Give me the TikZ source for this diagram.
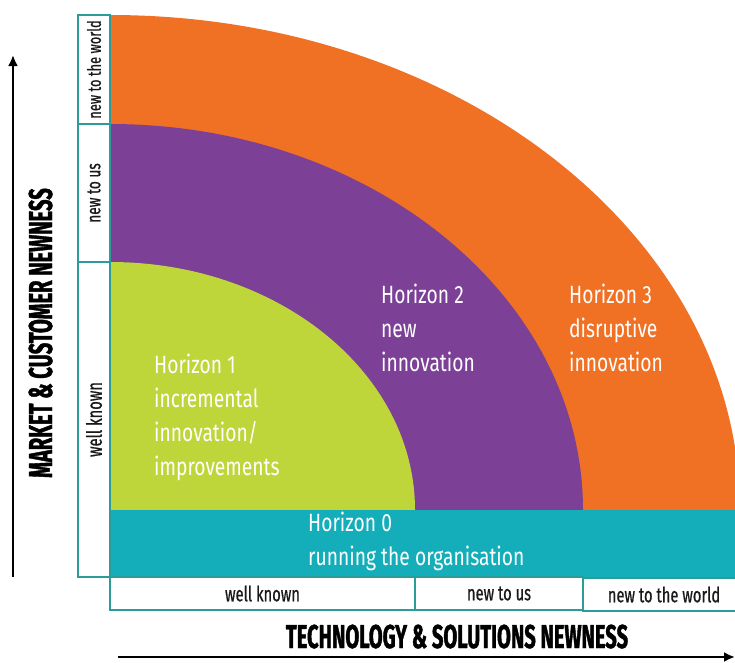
\documentclass[tikz,border=0pt]{standalone}
\usepackage{fontspec}
\setmainfont{Fira Sans}[FakeStretch=0.77]
\newfontfamily\boxfont{Fira Sans}[FakeStretch=0.7,FakeBold=0.6]
\newfontfamily\titlefont{Fira Sans}[FakeStretch=0.61,BoldFeatures={FakeBold=1.2}]
\usetikzlibrary{positioning,arrows.meta}

\definecolor{hzero}{HTML}{14AEBA}
\definecolor{hone}{HTML}{BED639}
\definecolor{htwo}{HTML}{7C4096}
\definecolor{hthree}{HTML}{F07124}
\definecolor{boxline}{HTML}{2A9D9B}

\tikzset{
  hlabel/.style={text=white,align=left,inner sep=0pt,anchor=north west,font=\fontsize{25}{34}\selectfont},
  newbox/.style={draw=boxline,line width=2pt,fill=white,inner sep=0pt,text=black!90,font=\boxfont\fontsize{21}{21}\selectfont},
  axistitle/.style={inner sep=0pt,anchor=base,font=\titlefont\bfseries\fontsize{33}{33}\selectfont},
  axisline/.style={-{Latex[length=11pt,width=10pt]},line width=2.5pt},
}

\begin{document}
\begin{tikzpicture}[x=1pt,y=-1pt]
\useasboundingbox (0,0) rectangle (735,662);

% horizons
\begin{scope}
\clip (110,0) rectangle (735,510);
\fill[hthree] (110,510) ellipse [x radius=630,y radius=495];
\fill[htwo] (110,510) ellipse [x radius=473,y radius=386];
\fill[hone] (110,510) ellipse [x radius=305,y radius=248];
\end{scope}
\fill[hzero] (110,510) rectangle (735,577);

\node[hlabel] (hone) at (154,354) {Horizon 1\\incremental\\innovation/\\improvements};
\node[hlabel] (htwo) at (381,284) {Horizon 2\\new\\innovation};
\node[hlabel] (hthree) at (569,284) {Horizon 3\\disruptive\\innovation};
\node[hlabel] (hzero) at (308,512) {Horizon 0\\running the organisation};

% market boxes
\node[newbox,rotate=90,minimum width=109pt,minimum height=32pt,font=\boxfont\fontsize{18.4}{18.4}\selectfont] (mworld) at (94,69.5) {new to the world};
\node[newbox,rotate=90,minimum width=138pt,minimum height=32pt,font=\boxfont\fontsize{19.5}{19.5}\selectfont] (mus) at (94,193) {new to us};
\node[newbox,rotate=90,minimum width=315pt,minimum height=32pt] (mknown) at (94,419.5) {well known};

% technology boxes
\node[newbox,minimum width=305pt,minimum height=33pt] (tknown) at (262.5,593.5) {well known};
\node[newbox,minimum width=168pt,minimum height=33pt] (tus) at (499,593.5) {new to us};
\node[newbox,minimum width=162pt,minimum height=33pt] (tworld) at (664,594.5) {new to the world};

% axis
\coordinate (mstart) at (13,577);
\coordinate (mend) at (13,55);
\coordinate (tstart) at (118,657);
\coordinate (tend) at (735,657);
\draw[axisline] (mstart) -- (mend);
\draw[axisline] (tstart) -- (tend);
\node[axistitle,rotate=90] (mtitle) at (52,333) {MARKET \& CUSTOMER NEWNESS};
\node[axistitle] (ttitle) at (457,648) {TECHNOLOGY \& SOLUTIONS NEWNESS};

\end{tikzpicture}
\end{document}
